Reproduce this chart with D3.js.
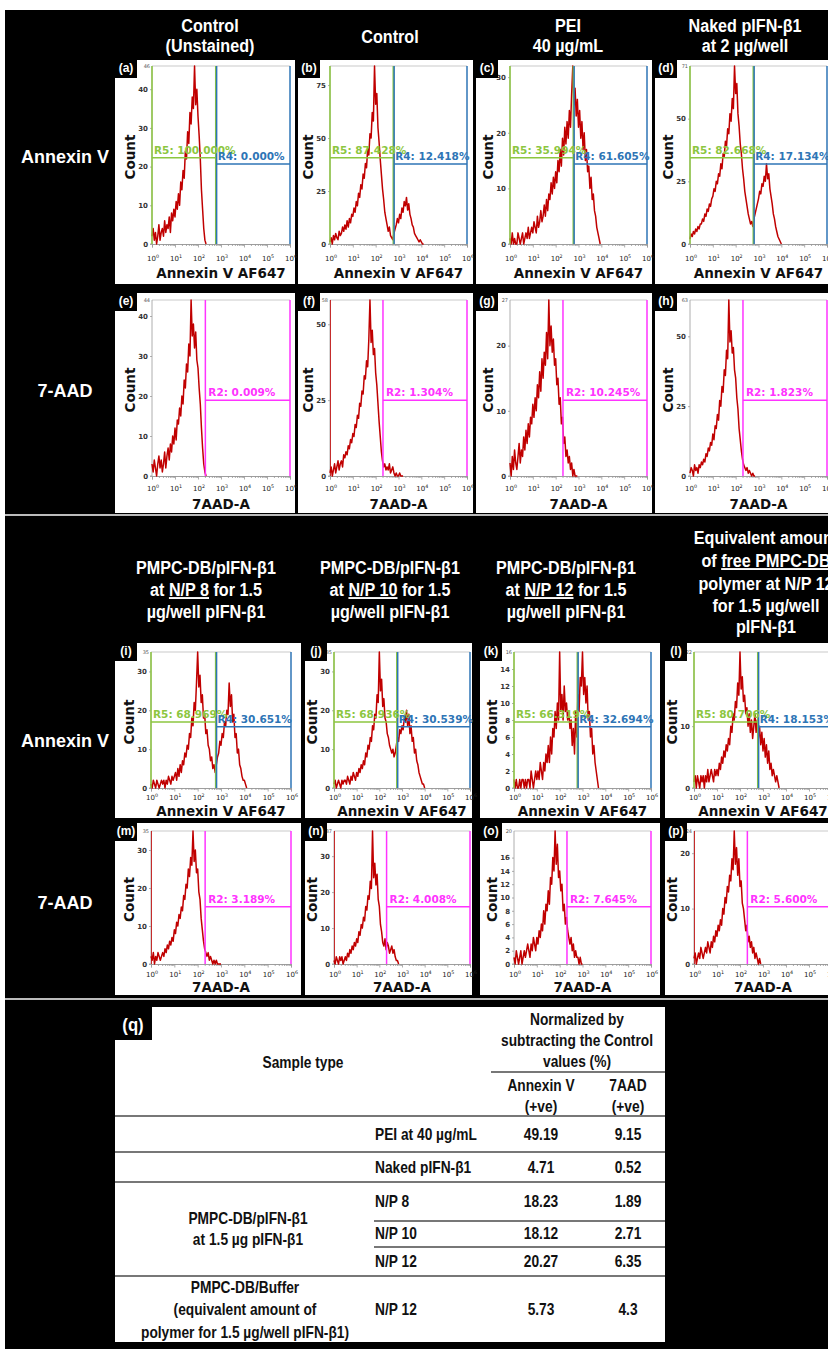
<!DOCTYPE html>
<meta charset="utf-8">
<style>
body { margin: 0; background: #fff; }
svg { display: block; }
.hdr { fill: #fff; font: bold 19px "Liberation Sans", Arial, sans-serif; text-anchor: middle; }
.rowlab { fill: #fff; font: bold 18px "Liberation Sans", Arial, sans-serif; text-anchor: middle; }
.tag { fill: #fff; font: bold 12px "Liberation Sans", Arial, sans-serif; text-anchor: middle; }
.axis path, .axis line { stroke: #999; stroke-width: 0.8; }
.axis text { fill: #333; font: bold 7px "DejaVu Sans", sans-serif; }
.xlab { fill: #222; font: 7px "DejaVu Sans", sans-serif; text-anchor: middle; }
.toplab { fill: #555; font: 5px "DejaVu Sans", sans-serif; text-anchor: end; }
.count, .xtitle { fill: #111; font: bold 13.5px "DejaVu Sans", sans-serif; text-anchor: middle; }
.gate { font: bold 10.5px "DejaVu Sans", sans-serif; }
.tbl { fill: #111; font: bold 16px "Liberation Sans", Arial, sans-serif; }
</style>

<svg width="828" height="1349"></svg>
<script src="https://cdnjs.cloudflare.com/ajax/libs/d3/7.8.5/d3.min.js"></script>

<script>

// histogram counts, one value per 0.05 decade starting at 10^0
var histA = [2,4,1,3,0,2,5,1,3,4, 2,6,3,5,4,7,3,8,6,9, 7,11,9,13,10,16,14,19,17,24, 22,29,26,34,31,38,35,46,36,40, 33,28,22,14,9,4,1,0];
var histB = [1,3,0,4,2,5,3,2,6,4, 5,8,6,9,7,11,8,12,10,14, 13,17,15,20,18,24,22,28,26,33, 31,38,36,45,42,52,50,62,58,84, 66,71,55,48,40,33,26,21,15,12, 9,6,8,4,3,2,5,7,9,12, 10,14,12,17,15,20,18,22,16,19, 14,12,9,8,5,4,3,2,1,2, 1,0,0];
var histC = [1,0,2,0,1,0,0,2,1,0, 1,2,0,1,2,1,3,1,2,3, 2,4,3,2,5,3,4,6,4,5, 7,5,8,6,9,8,11,9,12,10, 13,11,15,13,17,14,19,16,21,18, 22,19,24,21,27,32,25,28,23,26, 21,24,19,22,17,20,15,17,13,14, 10,12,8,9,6,5,3,2,1,0];
var histD = [2,4,3,5,4,6,5,7,6,8, 8,10,9,12,11,14,13,16,15,18, 19,22,21,25,24,28,27,32,30,36, 35,41,39,46,44,52,49,58,54,71, 60,64,52,47,40,36,30,26,21,18, 15,12,10,8,9,7,10,12,14,16, 18,21,20,24,23,27,25,32,26,28, 22,19,16,12,10,7,5,3,2,1, 0];
var histE = [3,1,4,2,0,3,5,2,4,1, 3,6,2,5,7,4,8,6,10,8, 12,9,14,13,17,15,20,18,24,22, 28,26,33,30,44,35,38,32,36,29, 27,22,18,12,7,3,1,0];
var histF = [1,3,0,2,4,1,3,5,2,4, 5,3,7,6,8,7,10,9,12,11, 14,13,17,16,20,19,24,23,28,27, 33,32,38,36,45,58,44,48,40,42, 34,30,24,18,13,8,5,3,4,2, 3,2,4,1,2,3,1,0,1,0, 0,1,0,0,0];
var histG = [2,0,3,1,4,2,1,3,5,2, 4,3,6,4,7,5,8,6,9,8, 11,9,12,10,14,12,16,13,18,15, 19,17,22,18,27,20,23,19,21,17, 18,14,15,11,12,8,9,5,6,3, 4,2,3,1,2,0,1,0,0,0];
var histH = [1,3,2,0,4,2,3,1,4,3, 5,4,6,5,8,7,10,9,12,11, 15,13,18,17,22,20,27,25,32,30, 38,36,45,42,63,48,52,44,46,38, 35,28,24,17,13,9,6,4,3,2, 3,1,2,1,0,1,0,0];
var histI = [1,0,2,1,0,2,1,0,1,2, 1,2,0,2,1,3,2,1,3,2, 3,4,2,5,3,6,4,7,6,9, 8,11,10,14,13,18,16,22,20,27, 35,26,29,22,24,18,19,14,15,11, 10,7,8,5,6,4,6,8,9,12, 11,14,13,17,16,20,19,27,21,24, 17,19,13,14,9,10,6,5,3,2, 2,1,0];
var histJ = [1,2,0,1,2,1,0,2,1,2, 2,1,3,2,1,3,2,4,3,2, 4,3,5,4,6,5,7,6,9,8, 11,10,13,12,16,15,19,18,24,22, 35,25,28,21,23,18,17,14,13,11, 10,9,10,8,9,11,13,12,15,14, 16,15,18,17,20,16,19,14,16,12, 13,9,10,7,6,4,3,2,1,1, 0];
var histK = [1,0,1,0,0,1,0,1,1,0, 1,0,1,1,0,2,1,0,1,2, 1,2,1,3,2,1,3,2,4,3, 5,3,6,4,7,6,9,7,10,8, 16,9,11,8,12,9,10,8,9,7, 8,5,7,4,9,6,11,9,13,12, 16,11,13,10,12,8,9,6,7,4, 5,3,2,1,0];
var histL = [1,2,0,2,1,0,2,1,2,0, 2,1,3,1,2,3,2,1,3,2, 3,2,4,3,5,4,6,5,7,6, 8,7,10,9,12,11,14,13,17,15, 22,16,18,14,15,12,13,10,12,9, 11,8,10,12,9,11,8,10,7,9, 6,8,5,7,4,6,3,4,2,3, 2,1,2,1,0];
var histM = [2,1,3,0,2,1,3,2,1,2, 3,2,4,3,5,4,6,5,7,6, 9,8,11,10,13,12,15,14,18,17, 21,20,25,23,28,26,35,27,30,24, 25,19,17,12,9,6,4,3,2,3, 1,2,1,0,1,0,1,0,0,0, 0];
var histN = [1,0,2,1,0,2,1,2,0,1, 2,1,3,2,4,3,5,4,6,5, 7,6,9,8,11,10,13,12,16,15, 19,18,23,21,37,24,28,22,25,18, 16,11,9,6,5,7,4,6,5,3, 4,5,3,4,2,1,1,0];
var histO = [1,0,2,1,0,1,2,0,1,2, 1,2,3,2,1,3,2,4,3,2, 4,3,5,4,6,5,8,6,9,8, 11,9,13,12,16,14,20,15,18,13, 14,11,12,8,9,6,7,5,4,3, 4,2,3,1,2,1,1,0,1,0, 0];
var histP = [1,2,0,1,2,1,3,2,1,2, 3,2,4,3,2,4,3,5,4,6, 5,7,6,8,7,10,9,12,11,14, 13,16,15,19,17,24,18,21,16,19, 14,15,11,10,8,6,7,4,5,3, 4,2,3,1,2,1,0,1,0];

var panelIds = ["a","b","c","d","e","f","g","h","i","j","k","l","m","n","o","p"];
var panelHist = [histA,histB,histC,histD,histE,histF,histG,histH,histI,histJ,histK,histL,histM,histN,histO,histP];
var panelMax = [46,84,32,71,44,58,27,63,35,35,16,22,35,37,20,24];
var panelTicks = [[0,10,20,30,40],[0,25,50,75],[0,10,20,30],[0,25,50],
                  [0,10,20,30,40],[0,25,50],[0,10,20],[0,25,50],
                  [0,10,20,30],[0,10,20,30],[0,2,4,6,8,10,12,14],[0,10],
                  [0,10,20,30],[0,10,20,30],[0,2,4,6,8,10,12,14,16],[0,10,20]];
var panelTop = ["46","","","71","44","58","27","63","35","35","16","22","35","37","20","24"];
var spikePanels = ["f","m","n","p"];

// gate percentages
var r5Values = {a:"100.000%", b:"87.428%", c:"35.994%", d:"82.668%", i:"68.969%", j:"68.936%", k:"66.319%", l:"80.706%"};
var r4Values = {a:"0.000%", b:"12.418%", c:"61.605%", d:"17.134%", i:"30.651%", j:"30.539%", k:"32.694%", l:"18.153%"};
var r2Values = {e:"0.009%", f:"1.304%", g:"10.245%", h:"1.823%", m:"3.189%", n:"4.008%", o:"7.645%", p:"5.600%"};

var topHeaders = [["Control","(Unstained)"],["Control"],["PEI","40 µg/mL"],["Naked pIFN-β1","at 2 µg/well"]];
var midHeaders = [
  [[["PMPC-DB/pIFN-β1",0]],[["at ",0],["N/P 8",1],[" for 1.5",0]],[["µg/well pIFN-β1",0]]],
  [[["PMPC-DB/pIFN-β1",0]],[["at ",0],["N/P 10",1],[" for 1.5",0]],[["µg/well pIFN-β1",0]]],
  [[["PMPC-DB/pIFN-β1",0]],[["at ",0],["N/P 12",1],[" for 1.5",0]],[["µg/well pIFN-β1",0]]],
  [[["Equivalent amount",0]],[["of ",0],["free PMPC-DB",1]],[["polymer at N/P 12",0]],[["for 1.5 µg/well",0]],[["pIFN-β1",0]]]
];

// table (q)
var tblSample = ["PEI at 40 µg/mL","Naked pIFN-β1","N/P 8","N/P 10","N/P 12","N/P 12"];
var tblAnnexin = [49.19, 4.71, 18.23, 18.12, 20.27, 5.73];
var tblAAD = [9.15, 0.52, 1.89, 2.71, 6.35, 4.3];

var STEP = 0.05;

var svg = d3.select("svg");
svg.append("rect").attr("x", 5).attr("y", 10).attr("width", 823).attr("height", 1339).attr("fill", "#000");
svg.append("line").attr("x1", 5).attr("x2", 828).attr("y1", 515).attr("y2", 515).attr("stroke", "#bbb").attr("stroke-width", 2);
svg.append("line").attr("x1", 5).attr("x2", 828).attr("y1", 999).attr("y2", 999).attr("stroke", "#bbb").attr("stroke-width", 2);

// narrow text: a normal font squeezed horizontally
function narrow(cls, x, y, sx) {
    return svg.append("text").attr("class", cls)
        .attr("transform", "translate(" + x + "," + y + ")scale(" + sx + ",1)");
}

// headers
var topX = [210, 390, 568, 745];
topHeaders.forEach(function(lines, i) {
    var base = lines.length == 2 ? [32, 52] : [43];
    lines.forEach(function(t, j) {
        narrow("hdr", topX[i], base[j], 0.85).text(t);
    });
});
var midX = [206, 390, 566, 766];
midHeaders.forEach(function(lines, i) {
    var base = lines.length == 3 ? [574, 596, 618] : [544, 567, 590, 612, 633];
    lines.forEach(function(segs, j) {
        var t = narrow("hdr", midX[i], base[j], 0.85);
        segs.forEach(function(s) {
            t.append("tspan").text(s[0]).style("text-decoration", s[1] ? "underline" : null);
        });
    });
});

// row labels
[["Annexin V", 163], ["7-AAD", 397], ["Annexin V", 747], ["7-AAD", 909]].forEach(function(r) {
    svg.append("text").attr("class", "rowlab").attr("x", 65).attr("y", r[1]).text(r[0]);
});

// panel layout
var rows = [
    {y0: 60, y1: 284, top: 66, zero: 244, tick: 261, title: 278},
    {y0: 293, y1: 513, top: 300, zero: 476, tick: 491, title: 509},
    {y0: 643, y1: 818, top: 652, zero: 788, tick: 800, title: 816},
    {y0: 823, y1: 995, top: 831, zero: 964, tick: 977, title: 992}
];
var colsTop = [{b0: 115, b1: 295, x0: 152, x1: 290}, {b0: 298, b1: 473, x0: 330, x1: 467},
               {b0: 476, b1: 652, x0: 510, x1: 647}, {b0: 655, b1: 830, x0: 690, x1: 827}];
var colsBot = [{b0: 115, b1: 301, x0: 151, x1: 291}, {b0: 305, b1: 472, x0: 334, x1: 470},
               {b0: 480, b1: 660, x0: 514, x1: 651}, {b0: 665, b1: 832, x0: 694, x1: 832}];

panelIds.forEach(function(id, k) {
    var row = rows[Math.floor(k / 4)];
    var col = (k < 8 ? colsTop : colsBot)[k % 4];
    var annexin = Math.floor(k / 4) % 2 == 0;
    drawPanel(id, k, row, col, annexin);
});

function drawPanel(id, k, row, col, annexin) {
    var g = svg.append("g");
    g.append("rect").attr("x", col.b0).attr("y", row.y0)
        .attr("width", col.b1 - col.b0).attr("height", row.y1 - row.y0).attr("fill", "#fff");

    var x = d3.scaleLog().domain([1, 1e6]).range([col.x0, col.x1]);
    var y = d3.scaleLinear().domain([0, panelMax[k]]).range([row.zero, row.top]);

    // frame
    g.append("line").attr("x1", col.x0).attr("x2", col.x1).attr("y1", row.top).attr("y2", row.top)
        .attr("stroke", "#bbb").attr("stroke-width", 0.8);

    // x axis with minor ticks
    var minor = [];
    for (var e = 0; e < 6; e++) for (var m = 2; m < 10; m++) minor.push(m * Math.pow(10, e));
    g.append("g").attr("class", "axis").attr("transform", "translate(0," + row.zero + ")")
        .call(d3.axisBottom(x).tickValues(minor).tickSize(2).tickFormat(""));
    g.append("g").attr("class", "axis").attr("transform", "translate(0," + row.zero + ")")
        .call(d3.axisBottom(x).tickValues(d3.range(7).map(function(p) { return Math.pow(10, p); }))
            .tickSize(3.5).tickFormat(""));
    g.selectAll(".xlab").data(d3.range(7)).enter().append("text")
        .attr("class", "xlab")
        .attr("x", function(p) { return x(Math.pow(10, p)) + 1; })
        .attr("y", row.tick)
        .each(function(p) {
            d3.select(this).append("tspan").text("10");
            d3.select(this).append("tspan").attr("dy", -3).style("font-size", "4.8px").text(p);
        });

    // y axis
    g.append("g").attr("class", "axis").attr("transform", "translate(" + col.x0 + ",0)")
        .call(d3.axisLeft(y).tickValues(panelTicks[k]).tickSize(2).tickPadding(2))
        .select(".domain").attr("d", "M-2," + row.zero + "H0V" + row.top);
    if (panelTop[k]) {
        g.append("text").attr("class", "toplab").attr("x", col.x0 - 2).attr("y", row.top + 2).text(panelTop[k]);
    }

    // histogram
    var line = d3.line()
        .x(function(d, i) { return x(Math.pow(10, i * STEP)); })
        .y(function(d) { return y(d); });
    g.append("path").datum(panelHist[k]).attr("d", line)
        .attr("fill", "none").attr("stroke", "#c00000").attr("stroke-width", 1.5)
        .attr("stroke-linejoin", "round");
    if (spikePanels.indexOf(id) >= 0) {
        g.append("line").attr("x1", x(1) + 0.5).attr("x2", x(1) + 0.5).attr("y1", row.zero).attr("y2", row.top)
            .attr("stroke", "#c00000").attr("stroke-width", 0.8);
    }

    var h = row.zero - row.top;
    if (annexin) {
        var xg5 = x(Math.pow(10, 2.77)), xg4 = x(Math.pow(10, 2.81));
        var y5 = row.zero - 0.485 * h, y4 = row.zero - 0.45 * h;
        var green = "#8cc63f", blue = "#2e75b6";
        [x(1), xg5].forEach(function(v) {
            g.append("line").attr("x1", v).attr("x2", v).attr("y1", row.top).attr("y2", row.zero)
                .attr("stroke", green).attr("stroke-width", 1.5);
        });
        g.append("line").attr("x1", x(1)).attr("x2", xg5).attr("y1", y5).attr("y2", y5)
            .attr("stroke", green).attr("stroke-width", 1.5);
        [xg4, x(1e6)].forEach(function(v) {
            g.append("line").attr("x1", v).attr("x2", v).attr("y1", row.top).attr("y2", row.zero)
                .attr("stroke", blue).attr("stroke-width", 1.5);
        });
        g.append("line").attr("x1", xg4).attr("x2", x(1e6)).attr("y1", y4).attr("y2", y4)
            .attr("stroke", blue).attr("stroke-width", 1.5);
        g.append("text").attr("class", "gate").attr("fill", green)
            .attr("x", x(1) + 2).attr("y", y5 - 4).text("R5: " + r5Values[id]);
        g.append("text").attr("class", "gate").attr("fill", blue)
            .attr("x", xg4 + 1).attr("y", y4 - 4).text("R4: " + r4Values[id]);
    } else {
        var xg2 = x(Math.pow(10, 2.32));
        var y2 = row.zero - 0.43 * h, pink = "#ff33ff";
        [xg2, x(1e6)].forEach(function(v) {
            g.append("line").attr("x1", v).attr("x2", v).attr("y1", row.top).attr("y2", row.zero)
                .attr("stroke", pink).attr("stroke-width", 1.5);
        });
        g.append("line").attr("x1", xg2).attr("x2", x(1e6)).attr("y1", y2).attr("y2", y2)
            .attr("stroke", pink).attr("stroke-width", 1.5);
        g.append("text").attr("class", "gate").attr("fill", pink)
            .attr("x", xg2 + 3).attr("y", y2 - 4).text("R2: " + r2Values[id]);
    }

    // titles
    g.append("text").attr("class", "count")
        .attr("transform", "translate(" + (col.x0 - 17) + "," + ((row.top + row.zero) / 2 + 2) + ")rotate(-90)")
        .text("Count");
    g.append("text").attr("class", "xtitle").attr("x", (col.x0 + col.x1) / 2).attr("y", row.title)
        .text(annexin ? "Annexin V AF647" : "7AAD-A");

    // tag
    g.append("rect").attr("x", col.b0).attr("y", row.y0 - 2).attr("width", 22).attr("height", 20).attr("fill", "#000");
    g.append("text").attr("class", "tag").attr("x", col.b0 + 11).attr("y", row.y0 + 12).text("(" + id + ")");
}

// table
var T = {x0: 115, x1: 665, y0: 1007, y1: 1342};
svg.append("rect").attr("x", T.x0).attr("y", T.y0).attr("width", T.x1 - T.x0).attr("height", T.y1 - T.y0).attr("fill", "#fff");
svg.append("rect").attr("x", T.x0).attr("y", T.y0).attr("width", 37).attr("height", 33).attr("fill", "#000");
narrow("tbl", T.x0 + 18, T.y0 + 24, 0.88).attr("text-anchor", "middle")
    .style("fill", "#fff").style("font-size", "19px").text("(q)");

function tline(x1, x2, yy) {
    svg.append("line").attr("x1", x1).attr("x2", x2).attr("y1", yy).attr("y2", yy)
        .attr("stroke", "#777").attr("stroke-width", 2);
}
function ttext(t, xx, yy, anchor) {
    narrow("tbl", xx, yy, 0.86).attr("text-anchor", anchor || "middle").text(t);
}
ttext("Sample type", 303, 1068);
ttext("Normalized by", 577, 1025);
ttext("subtracting the Control", 577, 1046);
ttext("values (%)", 577, 1067);
tline(491, T.x1, 1072);
ttext("Annexin V", 541, 1091); ttext("(+ve)", 541, 1112);
ttext("7AAD", 628, 1091); ttext("(+ve)", 628, 1112);
tline(T.x0, T.x1, 1116);

var rowBase = [1140, 1173, 1207, 1239, 1267, 1315];
tblSample.forEach(function(s, i) {
    ttext(s, 375, rowBase[i], "start");
    ttext(String(tblAnnexin[i]), 541, rowBase[i]);
    ttext(String(tblAAD[i]), 628, rowBase[i]);
});
tline(T.x0, T.x1, 1152);
tline(T.x0, T.x1, 1182);
tline(374, T.x1, 1221);
tline(374, T.x1, 1247);
tline(T.x0, T.x1, 1276);
ttext("PMPC-DB/pIFN-β1", 248, 1224);
ttext("at 1.5 µg pIFN-β1", 248, 1245);
ttext("PMPC-DB/Buffer", 245, 1293);
ttext("(equivalent amount of", 245, 1315);
ttext("polymer for 1.5 µg/well pIFN-β1)", 245, 1338);

</script>
